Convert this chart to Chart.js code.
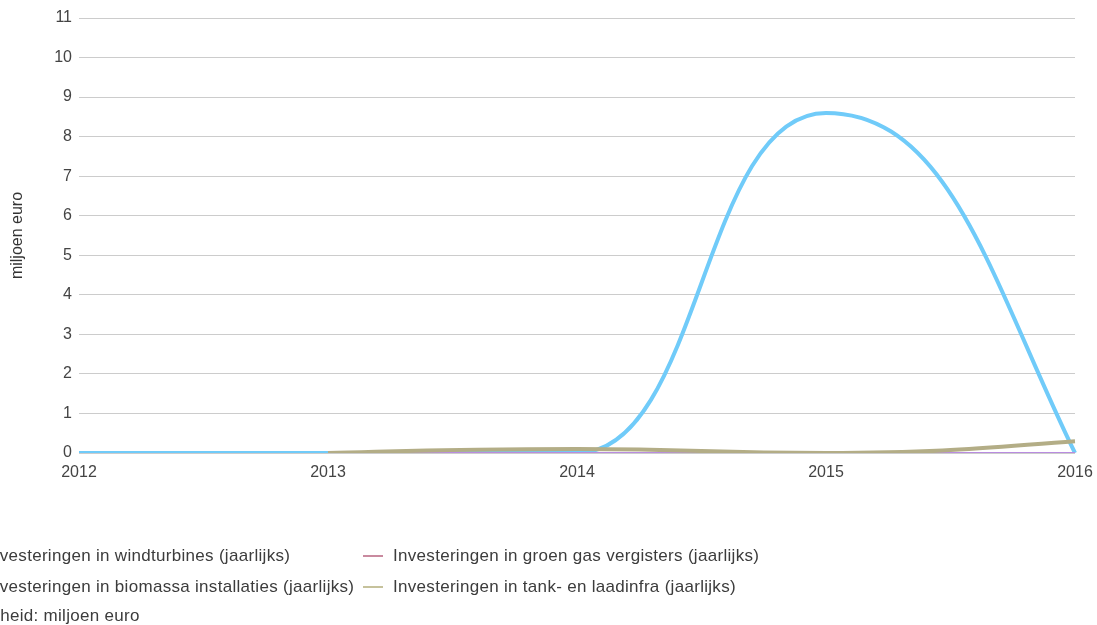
<!DOCTYPE html>
<html>
<head>
<meta charset="utf-8">
<script src="https://cdn.jsdelivr.net/npm/chart.js@4/dist/chart.umd.min.js"></script>
<style>
  html, body { margin: 0; padding: 0; background: #fff; overflow: hidden; }
  #wrap { position: relative; width: 1097px; height: 625px; }
  #box { position: absolute; left: 0; top: 0; width: 1097px; height: 480px; }
  .legend { position: absolute; left: 0; top: 0; width: 1097px; height: 625px; font-family: "Liberation Sans", Arial, sans-serif; font-size: 17px; letter-spacing: 0.3px; color: #3c3c3c; white-space: nowrap; }
  .item { position: absolute; display: flex; align-items: center; }
  .item i { display: inline-block; width: 20px; height: 2px; margin-right: 10px; }
</style>
</head>
<body>
<div id="wrap">
  <div id="box"><canvas id="chart"></canvas></div>
  <div class="legend" id="legend"></div>
</div>
<script>
// jaren op de x-as
const jaren = ["2012", "2013", "2014", "2015", "2016"];

// investeringen per jaar, miljoen euro
const windturbines = [0, 0, 0, 8.6, 0];
const groenGas = [null, 0, 0, 0, 0];
const biomassa = [null, 0, 0, 0, 0];
const tankLaadinfra = [null, 0, 0.1, 0, 0.3];

const reeksNamen = [
  "Investeringen in windturbines (jaarlijks)",
  "Investeringen in groen gas vergisters (jaarlijks)",
  "Investeringen in biomassa installaties (jaarlijks)",
  "Investeringen in tank- en laadinfra (jaarlijks)"
];
const reeksKleuren = ["#70cbf9", "#c98a9f", "#b98ce0", "#b3ad86"];
const legendaKleuren = ["#70cbf9", "#c98a9f", "#b98ce0", "#c6c29c"];
const yTicks = [0, 1, 2, 3, 4, 5, 6, 7, 8, 9, 10, 11];
const eenheid = "Eenheid: miljoen euro";

const reeksen = [windturbines, groenGas, biomassa, tankLaadinfra];
const dikte = [4, 2, 2, 4];
const volgorde = [4, 3, 2, 1];

const fam = "'Liberation Sans', Arial, sans-serif";

// 〰️ vloeiende curve: monotone hellingen, lange armen op tussenpunten,
//    "natuurlijke" helling (1.5x koorde) op de uiteinden
const curvePlugin = {
  id: "zachteCurve",
  beforeDatasetDraw(chart, args) {
    const meta = args.meta;
    meta.dataset.updateControlPoints(chart.chartArea, "x");
    const ok = (p) => p && !p.skip;
    const pts = meta.data.filter(ok);
    const n = pts.length;
    if (n < 2) return;

    // hellingen uit de monotone controlepunten
    const s = pts.map((p) => {
      if (Number.isFinite(p.cp2x) && p.cp2x !== p.x) return (p.cp2y - p.y) / (p.cp2x - p.x);
      if (Number.isFinite(p.cp1x) && p.cp1x !== p.x) return (p.cp1y - p.y) / (p.cp1x - p.x);
      return 0;
    });
    const koorde = (a, b) => (b.y - a.y) / (b.x - a.x);
    s[0] = 1.5 * koorde(pts[0], pts[1]) - 0.5 * s[1];
    s[n - 1] = 1.5 * koorde(pts[n - 2], pts[n - 1]) - 0.5 * s[n - 2];

    pts.forEach((p, i) => {
      const interior = i > 0 && i < n - 1;
      const f = interior ? 0.5 : 1 / 3;
      if (i > 0) {
        const a = f * (p.x - pts[i - 1].x);
        p.cp1x = p.x - a; p.cp1y = p.y - s[i] * a;
      }
      if (i < n - 1) {
        const a = f * (pts[i + 1].x - p.x);
        p.cp2x = p.x + a; p.cp2y = p.y + s[i] * a;
      }
    });
  }
};

new Chart(document.getElementById("chart"), {
  type: "line",
  data: {
    labels: jaren,
    datasets: reeksen.map((d, i) => ({
      label: reeksNamen[i],
      data: d,
      borderColor: reeksKleuren[i],
      backgroundColor: reeksKleuren[i],
      borderWidth: dikte[i],
      pointRadius: 0,
      cubicInterpolationMode: "monotone",
      fill: false,
      order: volgorde[i]
    }))
  },
  options: {
    responsive: true,
    maintainAspectRatio: false,
    animation: false,
    layout: { padding: { top: 18, right: 22, bottom: 0, left: 0 } },
    plugins: { legend: { display: false }, tooltip: { enabled: false } },
    scales: {
      x: {
        offset: false,
        grid: { display: false, drawTicks: false },
        border: { display: false },
        ticks: { color: "#444", font: { family: fam, size: 16 }, padding: 10, maxRotation: 0 },
        afterFit: (s) => { s.height = 27; s.paddingRight = 0; s.paddingLeft = 0; }
      },
      y: {
        min: 0,
        max: 11,
        afterBuildTicks: (s) => { s.ticks = yTicks.map(v => ({ value: v })); },
        grid: { color: "#cccccc", drawTicks: false, lineWidth: 1 },
        border: { display: false },
        ticks: { color: "#444", font: { family: fam, size: 16 }, padding: 7 },
        title: {
          display: true,
          text: "miljoen euro",
          color: "#333",
          font: { family: fam, size: 16 },
          padding: { top: 8, bottom: 0 }
        },
        afterFit: (s) => { s.width = 79; }
      }
    }
  },
  plugins: [curvePlugin]
});

// 🏷️ LEGENDA (twee kolommen, begint links buiten beeld)
const legend = document.getElementById("legend");
const kolomX = [-45, 363];
const rijY = [556, 587];
reeksNamen.forEach((naam, i) => {
  const el = document.createElement("div");
  el.className = "item";
  el.style.left = kolomX[i % 2] + "px";
  el.style.top = (rijY[Math.floor(i / 2)] - 10) + "px";
  el.innerHTML = `<i style="background:${legendaKleuren[i]}"></i><span>${naam}</span>`;
  legend.appendChild(el);
});
const voet = document.createElement("div");
voet.className = "item";
voet.style.left = "-31px";
voet.style.top = (616 - 10) + "px";
voet.textContent = eenheid;
legend.appendChild(voet);
</script>
</body>
</html>
